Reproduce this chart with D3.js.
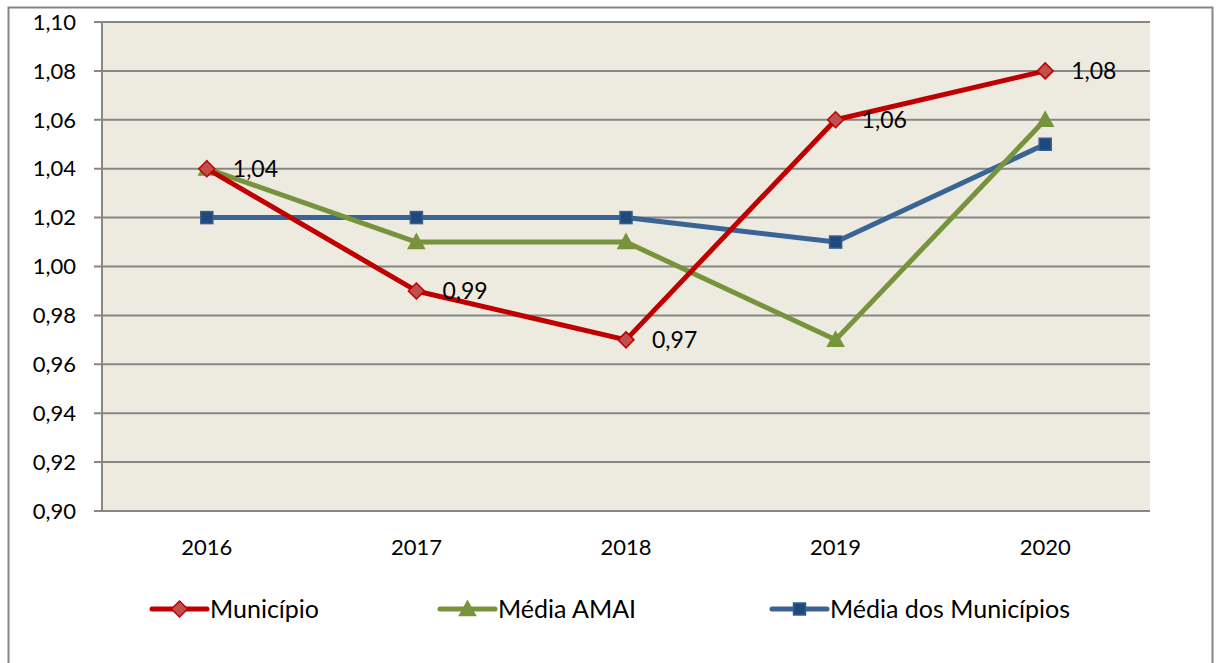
<!DOCTYPE html>
<html>
<head>
<meta charset="utf-8">
<script src="https://cdn.jsdelivr.net/npm/d3@7"></script>
<style>
  body { margin: 0; background: #fff; }
  text { font-family: Lato, "Open Sans", sans-serif; }
</style>
</head>
<body>
<svg id="chart" width="1216" height="663"></svg>
<script>
const years = ["2016", "2017", "2018", "2019", "2020"];
const municipio = [1.04, 0.99, 0.97, 1.06, 1.08];
const mediaAmai = [1.04, 1.01, 1.01, 0.97, 1.06];
const mediaMunicipios = [1.02, 1.02, 1.02, 1.01, 1.05];
const yTicks = [0.90, 0.92, 0.94, 0.96, 0.98, 1.00, 1.02, 1.04, 1.06, 1.08, 1.10];

const series = [
  { name: "Município", values: municipio, line: "#C00000", fill: "#C0504D", stroke: "#C00000", shape: "diamond", labels: true },
  { name: "Média AMAI", values: mediaAmai, line: "#77933C", fill: "#77933C", stroke: "#77933C", shape: "triangle", labels: false },
  { name: "Média dos Municípios", values: mediaMunicipios, line: "#3A6496", fill: "#1F497D", stroke: "#385D8A", shape: "square", labels: false }
];

const svg = d3.select("#chart");
const margin = {top: 22, left: 102, right: 1150, bottom: 511};

// outer border
svg.append("rect")
    .attr("x", 8.5).attr("y", 7.5)
    .attr("width", 1204).attr("height", 660)
    .attr("fill", "#fff")
    .attr("stroke", "#868686")
    .attr("stroke-width", 2);

let x = d3.scaleBand().domain(years).range([margin.left, margin.right]);
let y = d3.scaleLinear().domain([0.90, 1.10]).range([margin.bottom, margin.top]);

svg.append("rect")
    .attr("x", margin.left).attr("y", margin.top)
    .attr("width", margin.right - margin.left)
    .attr("height", margin.bottom - margin.top)
    .attr("fill", "#EDEAE0");

// gridlines
svg.append("g")
    .selectAll("line")
    .data(yTicks)
    .enter().append("line")
    .attr("x1", margin.left - 8)
    .attr("x2", margin.right)
    .attr("y1", d => y(d))
    .attr("y2", d => y(d))
    .attr("stroke", "#868686")
    .attr("stroke-width", 2);

svg.append("line")
    .attr("x1", margin.left).attr("x2", margin.left)
    .attr("y1", margin.top).attr("y2", margin.bottom)
    .attr("stroke", "#868686").attr("stroke-width", 2);

const fmt = d => d3.format(".2f")(d).replace(".", ",");

svg.append("g")
    .selectAll("text")
    .data(yTicks)
    .enter().append("text")
    .attr("x", margin.left - 26)
    .attr("y", d => y(d))
    .attr("dy", "0.35em")
    .attr("text-anchor", "end")
    .attr("font-size", "22px")
    .attr("fill", "#000")
    .text(fmt);

svg.append("g")
    .selectAll("text")
    .data(years)
    .enter().append("text")
    .attr("x", d => x(d) + x.bandwidth() / 2)
    .attr("y", 555)
    .attr("text-anchor", "middle")
    .attr("font-size", "22px")
    .attr("fill", "#000")
    .text(d => d);

function marker(g, shape, s) {
    if (shape === "diamond") {
        return g.append("path").attr("d", `M0,${-s}L${s},0L0,${s}L${-s},0Z`);
    } else if (shape === "triangle") {
        return g.append("path").attr("d", `M0,${-s}L${s},${s * 0.8}L${-s},${s * 0.8}Z`);
    }
    return g.append("rect").attr("x", -s * 0.75).attr("y", -s * 0.75).attr("width", s * 1.5).attr("height", s * 1.5);
}

const line = d3.line()
    .x((d, i) => x(years[i]) + x.bandwidth() / 2)
    .y(d => y(d));

// draw back to front: blue, green, red on top
[...series].reverse().forEach(s => {
    svg.append("path")
        .datum(s.values)
        .attr("fill", "none")
        .attr("stroke", s.line)
        .attr("stroke-width", 5)
        .attr("stroke-linejoin", "round")
        .attr("d", line);

    s.values.forEach((v, i) => {
        let g = svg.append("g")
            .attr("transform", `translate(${x(years[i]) + x.bandwidth() / 2},${y(v)})`);
        marker(g, s.shape, 8)
            .attr("fill", s.fill)
            .attr("stroke", s.stroke)
            .attr("stroke-width", 1.5);
    });

    if (s.labels) {
        svg.append("g")
            .selectAll("text")
            .data(s.values)
            .enter().append("text")
            .attr("x", (d, i) => x(years[i]) + x.bandwidth() / 2 + 26)
            .attr("y", d => y(d))
            .attr("dy", "0.35em")
            .attr("font-size", "23px")
            .attr("fill", "#000")
            .text(fmt);
    }
});

// legend
const legendX = [152, 440, 772];
series.forEach((s, i) => {
    let g = svg.append("g").attr("transform", `translate(${legendX[i]},609)`);
    g.append("line")
        .attr("x1", 0).attr("x2", 55)
        .attr("stroke", s.line)
        .attr("stroke-width", 5)
        .attr("stroke-linecap", "round");
    let m = g.append("g").attr("transform", "translate(27.5,0)");
    marker(m, s.shape, 8)
        .attr("fill", s.fill)
        .attr("stroke", s.stroke)
        .attr("stroke-width", 1.5);
    g.append("text")
        .attr("x", 58)
        .attr("dy", "0.35em")
        .attr("font-size", "25px")
        .attr("fill", "#000")
        .text(s.name);
});
</script>
</body>
</html>
